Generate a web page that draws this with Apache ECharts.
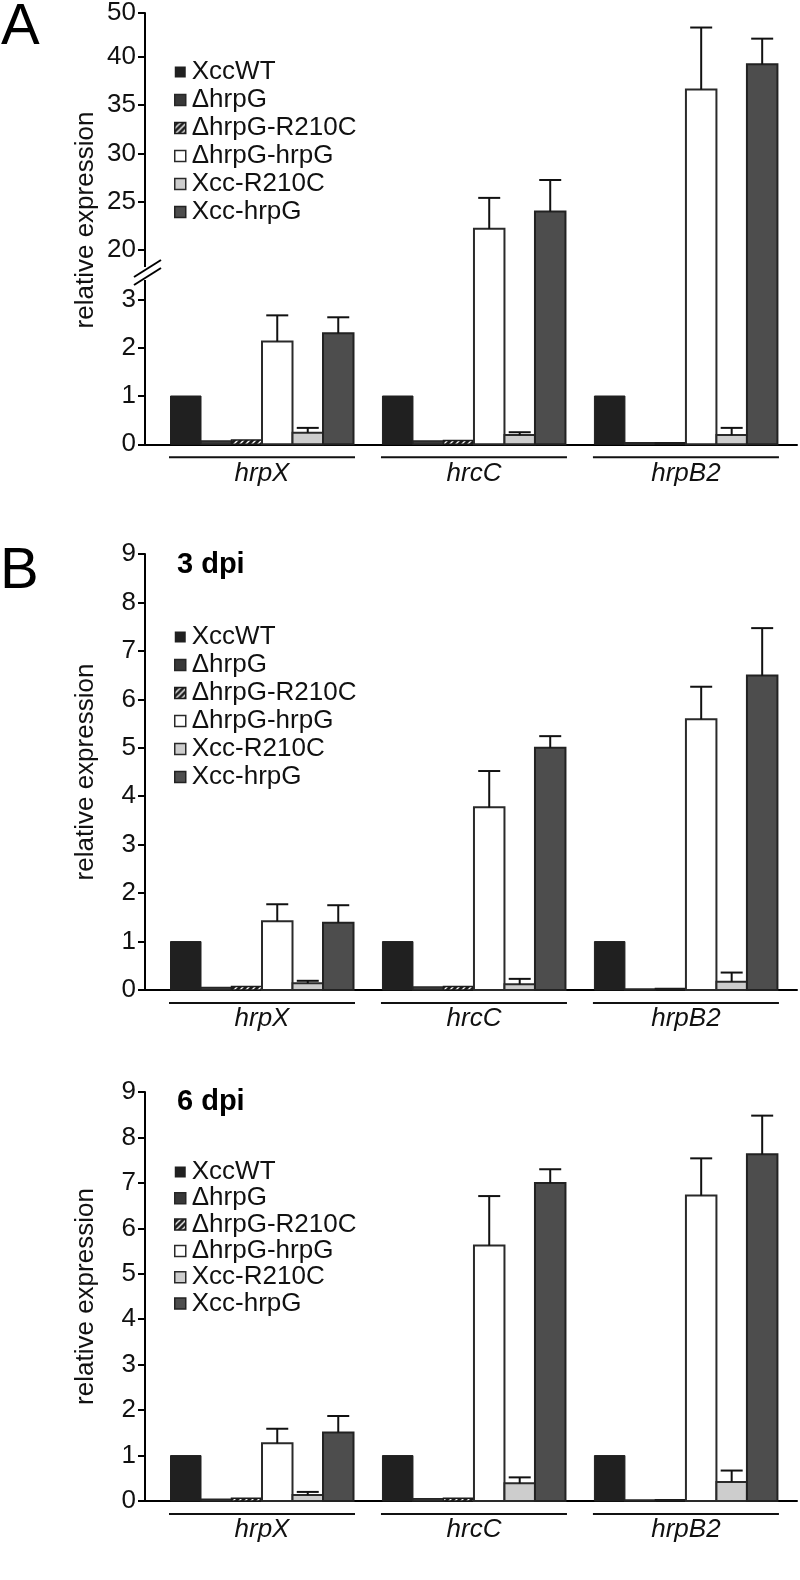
<!DOCTYPE html>
<html>
<head>
<meta charset="utf-8">
<script src="https://cdn.jsdelivr.net/npm/echarts@6.0.0/dist/echarts.min.js"></script>
<style>
  html, body { margin: 0; padding: 0; background: #fff; }
  #chart { width: 800px; height: 1580px; }
</style>
</head>
<body>
<div id="chart"></div>
<script>
// ---------------- data ----------------
const genes = ['hrpX', 'hrcC', 'hrpB2'];
const strains = ['XccWT', '\u0394hrpG', '\u0394hrpG-R210C', '\u0394hrpG-hrpG', 'Xcc-R210C', 'Xcc-hrpG'];

// Panel A (mean per gene, then SD)
const A_XccWT        = [1, 1, 1];
const A_dHrpG        = [0.07, 0.07, 0.03];
const A_dHrpG_R210C  = [0.09, 0.08, 0.03];
const A_dHrpG_hrpG   = [2.13, 22.2, 36.6];
const A_Xcc_R210C    = [0.24, 0.19, 0.19];
const A_Xcc_hrpG     = [2.30, 24.0, 39.2];
const A_sd_dHrpG_hrpG  = [0.54, 3.2, 6.4];
const A_sd_Xcc_R210C   = [0.10, 0.06, 0.15];
const A_sd_Xcc_hrpG    = [0.33, 3.25, 2.65];

// Panel B, 3 dpi
const B3_XccWT       = [1, 1, 1];
const B3_dHrpG       = [0.05, 0.06, 0.02];
const B3_dHrpG_R210C = [0.07, 0.07, 0.03];
const B3_dHrpG_hrpG  = [1.42, 3.77, 5.59];
const B3_Xcc_R210C   = [0.14, 0.12, 0.17];
const B3_Xcc_hrpG    = [1.39, 5.00, 6.49];
const B3_sd_dHrpG_hrpG = [0.35, 0.75, 0.67];
const B3_sd_Xcc_R210C  = [0.05, 0.11, 0.19];
const B3_sd_Xcc_hrpG   = [0.36, 0.24, 0.98];

// Panel B, 6 dpi
const B6_XccWT       = [1, 1, 1];
const B6_dHrpG       = [0.04, 0.05, 0.02];
const B6_dHrpG_R210C = [0.06, 0.06, 0.03];
const B6_dHrpG_hrpG  = [1.27, 5.62, 6.72];
const B6_Xcc_R210C   = [0.13, 0.39, 0.42];
const B6_Xcc_hrpG    = [1.51, 7.00, 7.63];
const B6_sd_dHrpG_hrpG = [0.32, 1.09, 0.82];
const B6_sd_Xcc_R210C  = [0.07, 0.13, 0.25];
const B6_sd_Xcc_hrpG   = [0.36, 0.30, 0.85];

// tick labels
const A_upperTicks  = [20, 25, 30, 35, 40, 44.5];
const A_upperLabels = ['20', '25', '30', '35', '40', '50'];
const A_lowerTicks  = [0, 1, 2, 3];

// ---------------- styling ----------------
const FONT = 'Liberation Sans, Arial, Helvetica, sans-serif';
const FS = 26;
const BAR_W = 30.5;

function hatchPattern() {
  const c = document.createElement('canvas');
  c.width = 6; c.height = 6;
  const g = c.getContext('2d');
  g.fillStyle = '#1c1c1c'; g.fillRect(0, 0, 6, 6);
  g.strokeStyle = '#ffffff'; g.lineWidth = 1.4;
  g.beginPath();
  g.moveTo(0, 6); g.lineTo(6, 0);
  g.moveTo(-3, 3); g.lineTo(3, -3);
  g.moveTo(3, 9); g.lineTo(9, 3);
  g.stroke();
  return { image: c, repeat: 'repeat' };
}
const STY = [
  { fill: '#202020', stroke: '#202020', lw: 1 },
  { fill: '#383838', stroke: '#262626', lw: 1.5 },
  { fill: hatchPattern(), stroke: '#1c1c1c', lw: 1.5 },
  { fill: '#ffffff', stroke: '#2a2a2a', lw: 2 },
  { fill: '#cdcdcd', stroke: '#2a2a2a', lw: 2 },
  { fill: '#4d4d4d', stroke: '#222222', lw: 2 }
];

function makeBar(k) {
  return function (params, api) {
    const cat = api.value(0), v = api.value(1), sd = api.value(2);
    const cs = params.coordSys;
    const gTop = cs.y, gBot = cs.y + cs.height;
    const pTop = api.coord([cat, v]);
    const pBase = api.coord([cat, 0]);
    const cx = pTop[0] + (k - 2.5) * BAR_W;
    const x0 = cx - BAR_W / 2, x1 = cx + BAR_W / 2;
    let top = pTop[1], bot = pBase[1];
    const topCut = top < gTop - 0.01;
    const botCut = bot > gBot + 0.5;
    top = Math.max(top, gTop); bot = Math.min(bot, gBot);
    if (bot - top <= 0) return null;
    const st = STY[k];
    const ls = { stroke: st.stroke, lineWidth: st.lw, fill: null, lineJoin: 'miter' };
    const children = [{
      type: 'rect', shape: { x: x0, y: top, width: BAR_W, height: bot - top },
      style: { fill: st.fill, stroke: null }
    }];
    if (!topCut && !botCut) {
      children.push({ type: 'rect', shape: { x: x0, y: top, width: BAR_W, height: bot - top }, style: ls });
    } else if (topCut && !botCut) {
      children.push({ type: 'polyline', shape: { points: [[x0, top], [x0, bot], [x1, bot], [x1, top]] }, style: ls });
    } else if (!topCut && botCut) {
      children.push({ type: 'polyline', shape: { points: [[x0, bot], [x0, top], [x1, top], [x1, bot]] }, style: ls });
    } else {
      children.push({ type: 'line', shape: { x1: x0, y1: top, x2: x0, y2: bot }, style: ls });
      children.push({ type: 'line', shape: { x1: x1, y1: top, x2: x1, y2: bot }, style: ls });
    }
    if (!topCut && sd > 0) {
      const pe = api.coord([cat, v + sd]);
      const es = { stroke: '#111', lineWidth: 2 };
      children.push({ type: 'line', shape: { x1: cx, y1: pTop[1], x2: cx, y2: pe[1] }, style: es });
      children.push({ type: 'line', shape: { x1: cx - 11, y1: pe[1], x2: cx + 11, y2: pe[1] }, style: es });
    }
    return { type: 'group', children: children };
  };
}

function groupLabels(params, api) {
  const p = api.coord([api.value(0), 0]);
  return {
    type: 'group',
    children: [
      { type: 'line', shape: { x1: p[0] - 93, y1: p[1] + 13, x2: p[0] + 93, y2: p[1] + 13 },
        style: { stroke: '#111', lineWidth: 2 } },
      { type: 'text', x: p[0], y: p[1] + 29,
        style: { text: genes[params.dataIndex], fontSize: FS, fontStyle: 'italic', fontFamily: FONT,
                 fill: '#111', align: 'center', verticalAlign: 'middle' } }
    ]
  };
}

function rows(means, sds) {
  return means.map((m, i) => [i, m, sds ? sds[i] : 0]);
}

const panelA = [
  rows(A_XccWT), rows(A_dHrpG), rows(A_dHrpG_R210C),
  rows(A_dHrpG_hrpG, A_sd_dHrpG_hrpG), rows(A_Xcc_R210C, A_sd_Xcc_R210C), rows(A_Xcc_hrpG, A_sd_Xcc_hrpG)
];
const panelB3 = [
  rows(B3_XccWT), rows(B3_dHrpG), rows(B3_dHrpG_R210C),
  rows(B3_dHrpG_hrpG, B3_sd_dHrpG_hrpG), rows(B3_Xcc_R210C, B3_sd_Xcc_R210C), rows(B3_Xcc_hrpG, B3_sd_Xcc_hrpG)
];
const panelB6 = [
  rows(B6_XccWT), rows(B6_dHrpG), rows(B6_dHrpG_R210C),
  rows(B6_dHrpG_hrpG, B6_sd_dHrpG_hrpG), rows(B6_Xcc_R210C, B6_sd_Xcc_R210C), rows(B6_Xcc_hrpG, B6_sd_Xcc_hrpG)
];

// grids: 0 A upper, 1 A lower, 2 A name holder, 3 B 3dpi, 4 B 6dpi
const grids = [
  { left: 145, top: 11, width: 652, height: 262 },
  { left: 145, top: 273, width: 652, height: 171.3 },
  { left: 145, top: 11, width: 652, height: 418 },
  { left: 145, top: 554, width: 652, height: 436 },
  { left: 145, top: 1092, width: 652, height: 409 }
];

const axisLineStyle = { color: '#000', width: 2 };
const labelStyle = { fontSize: FS, color: '#111', fontFamily: FONT, margin: 9 };

const xAxes = grids.map((g, i) => ({
  type: 'value', gridIndex: i, min: -0.552, max: 2.524,
  show: (i === 1 || i === 3 || i === 4),
  axisLine: { show: true, onZero: false, lineStyle: axisLineStyle },
  axisTick: { show: false }, axisLabel: { show: false }, splitLine: { show: false }
}));

const nameStyle = { fontSize: FS, color: '#111', fontFamily: FONT };
const tickStyle = { width: 2, color: '#000' };
const yAxes = [
  { type: 'value', gridIndex: 0, min: 17.64, max: 44.5,
    axisLine: { show: true, onZero: false, lineStyle: axisLineStyle },
    axisTick: { show: true, length: 7, lineStyle: tickStyle, customValues: A_upperTicks },
    axisLabel: Object.assign({ customValues: A_upperTicks,
      formatter: v => A_upperLabels[A_upperTicks.indexOf(v)] }, labelStyle),
    splitLine: { show: false } },
  { type: 'value', gridIndex: 1, min: 0, max: 3.547,
    axisLine: { show: true, onZero: false, lineStyle: axisLineStyle },
    axisTick: { show: true, length: 7, lineStyle: tickStyle, customValues: A_lowerTicks },
    axisLabel: Object.assign({ customValues: A_lowerTicks }, labelStyle),
    splitLine: { show: false } },
  { type: 'value', gridIndex: 2, min: 0, max: 1,
    axisLine: { show: false, onZero: false }, axisTick: { show: false }, axisLabel: { show: false }, splitLine: { show: false },
    name: 'relative expression', nameLocation: 'middle', nameGap: 46, nameTextStyle: nameStyle },
  { type: 'value', gridIndex: 3, min: 0, max: 9, interval: 1,
    axisLine: { show: true, onZero: false, lineStyle: axisLineStyle },
    axisTick: { show: true, length: 7, lineStyle: tickStyle },
    axisLabel: labelStyle, splitLine: { show: false },
    name: 'relative expression', nameLocation: 'middle', nameGap: 46, nameTextStyle: nameStyle },
  { type: 'value', gridIndex: 4, min: 0, max: 9, interval: 1,
    axisLine: { show: true, onZero: false, lineStyle: axisLineStyle },
    axisTick: { show: true, length: 7, lineStyle: tickStyle },
    axisLabel: labelStyle, splitLine: { show: false },
    name: 'relative expression', nameLocation: 'middle', nameGap: 46, nameTextStyle: nameStyle }
];

const series = [];
function addPanel(data, gridIdx) {
  strains.forEach((s, k) => {
    series.push({
      type: 'custom', name: s, xAxisIndex: gridIdx, yAxisIndex: gridIdx,
      data: data[k], encode: { x: 0, y: 1 }, renderItem: makeBar(k),
      itemStyle: { color: STY[k].fill }, silent: true, z: 3
    });
  });
}
addPanel(panelA, 0);
addPanel(panelA, 1);
addPanel(panelB3, 3);
addPanel(panelB6, 4);
[1, 3, 4].forEach(g => {
  series.push({
    type: 'custom', name: 'genes', xAxisIndex: g, yAxisIndex: g,
    data: genes.map((_, i) => [i, 0]), encode: { x: 0, y: 1 },
    renderItem: groupLabels, silent: true, clip: false, z: 4
  });
});

function legendAt(top, gap) {
  return {
    orient: 'vertical', left: 174, top: top, padding: 0, itemGap: gap,
    itemWidth: 11, itemHeight: 11, selectedMode: false,
    textStyle: { fontSize: FS, color: '#111', fontFamily: FONT, padding: [0, 0, 0, 1] },
    data: strains.map((s, k) => ({
      name: s, icon: 'rect',
      itemStyle: { color: STY[k].fill, borderColor: STY[k].stroke, borderWidth: k === 0 ? 0 : 1.5 }
    }))
  };
}

const graphics = [
  // axis break on panel A
  { type: 'rect', shape: { x: 139, y: 267, width: 12, height: 13 }, style: { fill: '#fff' }, z: 100 },
  { type: 'line', shape: { x1: 134, y1: 277, x2: 161, y2: 260 }, style: { stroke: '#000', lineWidth: 2 }, z: 101 },
  { type: 'line', shape: { x1: 134, y1: 285, x2: 161, y2: 268 }, style: { stroke: '#000', lineWidth: 2 }, z: 101 },
  // panel letters and sub-titles
  { type: 'text', x: 1, y: 28, style: { text: 'A', fontSize: 58, fontFamily: FONT, fill: '#000', verticalAlign: 'middle' } },
  { type: 'text', x: 0, y: 572, style: { text: 'B', fontSize: 58, fontFamily: FONT, fill: '#000', verticalAlign: 'middle' } },
  { type: 'text', x: 177, y: 565, style: { text: '3 dpi', fontSize: 29, fontWeight: 'bold', fontFamily: FONT, fill: '#000', verticalAlign: 'middle' } },
  { type: 'text', x: 177, y: 1102, style: { text: '6 dpi', fontSize: 29, fontWeight: 'bold', fontFamily: FONT, fill: '#000', verticalAlign: 'middle' } }
];

const chart = echarts.init(document.getElementById('chart'), null, { renderer: 'canvas' });
chart.setOption({
  animation: false,
  backgroundColor: '#fff',
  grid: grids,
  xAxis: xAxes,
  yAxis: yAxes,
  legend: [legendAt(59, 2), legendAt(624, 2), legendAt(1159, 0.3)],
  series: series,
  graphic: graphics
});
</script>
</body>
</html>
